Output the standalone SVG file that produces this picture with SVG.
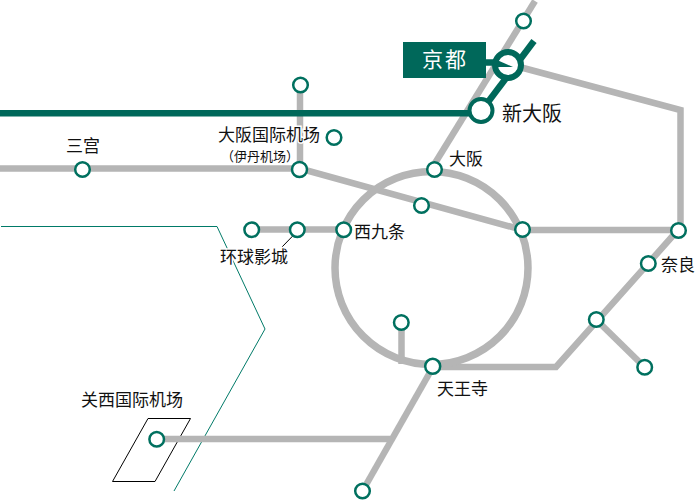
<svg xmlns="http://www.w3.org/2000/svg" width="695" height="500" viewBox="0 0 695 500">
<style>
.g{fill:none;stroke:#b5b5b5;stroke-width:6.500}
.d{fill:none;stroke:#00685a;stroke-width:6.500}
.t{fill:none;stroke:#007a68;stroke-width:1}
.k{fill:none;stroke:#000;stroke-width:1}
.s{fill:#fff;stroke:#00705f;stroke-width:2.500}
text{font-family:"Noto Sans CJK SC","Noto Sans CJK JP",sans-serif;font-size:17px;fill:#111}
.halo{stroke:#fff;stroke-width:3;paint-order:stroke}
</style>
<g id="connectors">
<path class="t" d="M1 226.500H217L265 329L174 491"/>
<path class="k" d="M148 418.500H190.500L155 481.500H112.500Z"/>
<path class="k" d="M298.500 230L282 247"/>
<path class="g" d="M535 1L432 168"/>
<path class="g" d="M512 65L680.500 110V230"/>
<path class="g" d="M300 86V170"/>
<path class="g" d="M0 168.500H300L522.500 230H678L556 367H433"/>
<path class="g" d="M596.500 320L644.500 367"/>
<path class="g" d="M433 367L362.500 491"/>
<path class="g" d="M401.500 322V364"/>
<path class="g" d="M156.500 439H390"/>
<path class="g" d="M252 229.500H344"/>
<circle class="g" cx="431.500" cy="268" r="96.500" style="stroke-width:7.500"/>
<path class="d" d="M0 113.300H480"/>
<path class="d" d="M482 110L534 41"/>
</g>
<g id="station-kyoto">
<rect x="403" y="42" width="83" height="36" fill="#00685a"/>
<path class="d" d="M486 62.500H497"/>
<circle cx="508" cy="65" r="13" fill="#fff" stroke="#00685a" stroke-width="6"/>
<path d="M497 60L513 67L497 67Z" fill="#00685a"/>
<text x="422" y="67" style="font-size:21px;letter-spacing:2px;fill:#fff">京都</text>
</g>
<g id="station-shinosaka">
<circle cx="481" cy="110.500" r="11.500" fill="#fff" stroke="#00685a" stroke-width="4"/>
<text x="502" y="121" style="font-size:20px">新大阪</text>
</g>
<g id="station-north"><circle class="s" cx="523.500" cy="21" r="7.300"/></g>
<g id="station-itami-branch"><circle class="s" cx="300.500" cy="85" r="7.300"/></g>
<g id="station-itami">
<circle class="s" cx="334" cy="137.500" r="7.300"/>
<text class="halo" x="218" y="141">大阪国际机场</text>
<text class="halo" x="221" y="161" style="font-size:13px">（伊丹机场）</text>
</g>
<g id="station-sannomiya"><circle class="s" cx="82.500" cy="169.500" r="7.300"/><text x="66" y="152">三宫</text></g>
<g id="station-junction"><circle class="s" cx="299.500" cy="169.500" r="7.500"/></g>
<g id="station-osaka"><circle class="s" cx="434.500" cy="169.500" r="7.300"/><text x="449" y="165">大阪</text></g>
<g id="station-ring-a"><circle class="s" cx="421.500" cy="205.500" r="7.300"/></g>
<g id="station-ring-b"><circle class="s" cx="522.500" cy="229.500" r="7.300"/></g>
<g id="station-east"><circle class="s" cx="678.500" cy="230.500" r="7.300"/></g>
<g id="station-w1"><circle class="s" cx="251.700" cy="229.700" r="7.300"/></g>
<g id="station-universal"><circle class="s" cx="297.300" cy="229.700" r="7.300"/><text class="halo" x="220" y="263">环球影城</text></g>
<g id="station-nishikujo"><circle class="s" cx="343.700" cy="229.700" r="7.300"/><text x="354" y="238">西九条</text></g>
<g id="station-nara"><circle class="s" cx="648.300" cy="263.500" r="7.300"/><text x="661" y="271">奈良</text></g>
<g id="station-e2"><circle class="s" cx="596.300" cy="319.500" r="7.300"/></g>
<g id="station-e3"><circle class="s" cx="644.700" cy="367.300" r="7.300"/></g>
<g id="station-ring-c"><circle class="s" cx="401.300" cy="322.500" r="7.300"/></g>
<g id="station-tennoji"><circle class="s" cx="432.700" cy="366.300" r="7.500"/><text x="437" y="395">天王寺</text></g>
<g id="station-south"><circle class="s" cx="362.500" cy="491" r="7.300"/></g>
<g id="station-kansai"><circle class="s" cx="156.700" cy="439.300" r="7.300"/><text x="81" y="406">关西国际机场</text></g>
</svg>
